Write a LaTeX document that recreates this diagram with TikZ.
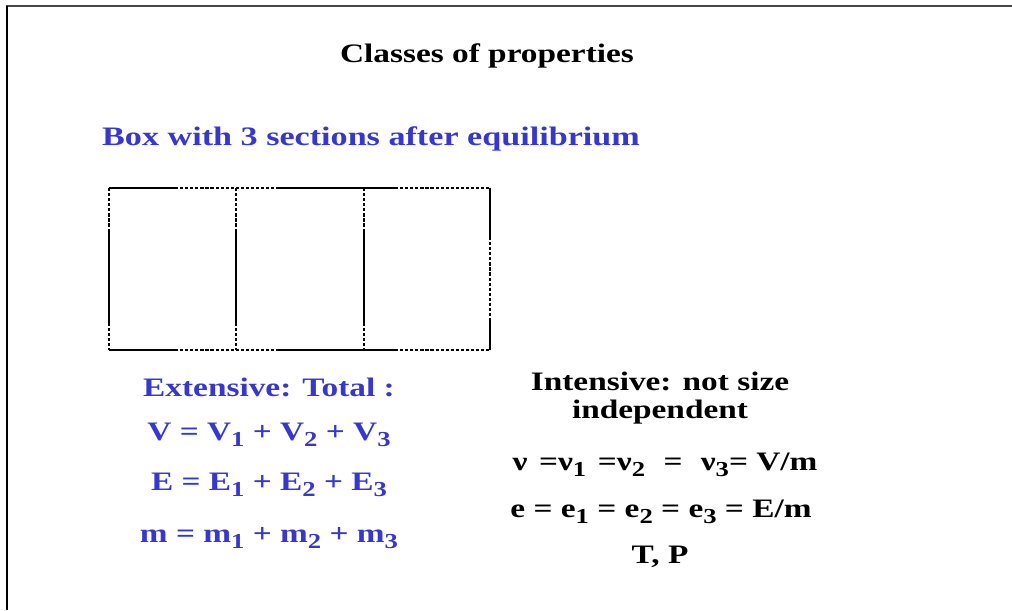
\documentclass[tikz,border=0pt]{standalone}
\usepackage{fontspec}
\usepackage{graphicx}
\setmainfont{Liberation Serif}
\definecolor{txtblue}{RGB}{55,55,205}
\definecolor{framegray}{RGB}{70,70,70}
\newcommand{\hs}[1]{\scalebox{1.25}[1]{#1}}
\newcommand{\hsw}[1]{\scalebox{1.28}[1]{#1}}
\newcommand{\sbs}[1]{\raisebox{-0.5ex}{\fontsize{16}{16}\selectfont #1}}
\begin{document}
\begin{tikzpicture}[x=0.75pt,y=-0.75pt,
  txt/.style={font=\fontsize{20}{24}\selectfont\bfseries, anchor=base, inner sep=0pt},
  bluetxt/.style={txt, text=txtblue},
  solidseg/.style={line width=1.25pt, black},
  dashseg/.style={line width=1.25pt, black, dash pattern=on 2.4pt off 1.4pt}]
\useasboundingbox (0,0) rectangle (1012,610);
% frame
\draw[framegray, line width=2.2pt] (6,6) -- (1012,6);
\draw[black, line width=1.4pt] (7,6) -- (7,610);
% title
\node[txt] (title) at (487,63) {\hs{Classes of properties}};
\node[bluetxt] (boxlabel) at (371,145) {\hsw{Box with 3 sections after equilibrium}};
% box: top and bottom edges
\foreach \y in {188,350}{
  \draw[solidseg] (109,\y) -- (175,\y);
  \draw[dashseg] (175,\y) -- (280,\y);
  \draw[solidseg] (280,\y) -- (395,\y);
  \draw[dashseg] (395,\y) -- (490,\y);
}
% left side and dividers
\foreach \x in {109,236,364}{
  \draw[dashseg] (\x,188) -- (\x,230);
  \draw[solidseg] (\x,230) -- (\x,323);
  \draw[dashseg] (\x,323) -- (\x,350);
}
% right side
\draw[solidseg] (490,188) -- (490,237);
\draw[dashseg] (490,237) -- (490,320);
\draw[solidseg] (490,320) -- (490,350);
% extensive
\node[bluetxt] (ext) at (269,396) {\hs{Extensive: Total :}};
\node[bluetxt] (extV) at (269,440) {\hs{V = V\sbs{1} + V\sbs{2} + V\sbs{3}}};
\node[bluetxt] (extE) at (269,490) {\hs{E = E\sbs{1} + E\sbs{2} + E\sbs{3}}};
\node[bluetxt] (extm) at (269,542) {\hs{m = m\sbs{1} + m\sbs{2} + m\sbs{3}}};
% intensive
\node[txt] (int1) at (660,390) {\hs{Intensive: not size}};
\node[txt] (int2) at (660,418) {\hs{independent}};
\node[txt] (intv) at (665,470) {\hs{ν\hspace{0.35em}=ν\sbs{1}\hspace{0.35em}=ν\sbs{2}\hspace{0.3em} =\hspace{0.3em} ν\sbs{3}= V/m}};
\node[txt] (inte) at (661,517) {\hs{e = e\sbs{1} = e\sbs{2} = e\sbs{3} = E/m}};
\node[txt] (inttp) at (660,563) {\hs{T, P}};
\end{tikzpicture}
\end{document}
